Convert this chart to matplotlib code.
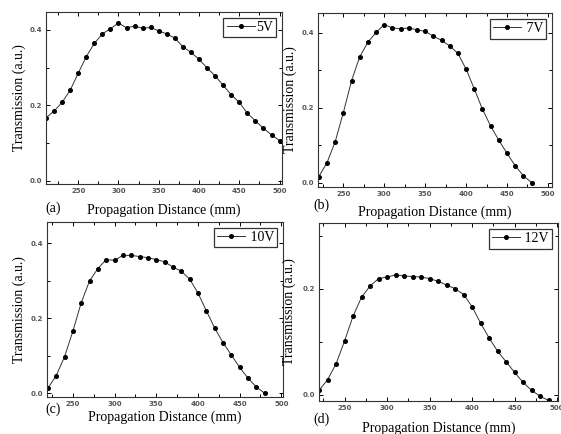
import numpy as np
import matplotlib
matplotlib.use("Agg")
import matplotlib.pyplot as plt
from matplotlib.ticker import MultipleLocator

# datos
dist_a = [210, 220, 230, 240, 250, 260, 270, 280, 290, 300, 310, 320, 330, 340, 350,
          360, 370, 380, 390, 400, 410, 420, 430, 440, 450, 460, 470, 480, 490, 500]
trans_a = [0.167, 0.185, 0.208, 0.240, 0.285, 0.329, 0.364, 0.389, 0.403, 0.418,
           0.405, 0.410, 0.404, 0.406, 0.397, 0.389, 0.378, 0.355, 0.340, 0.322,
           0.299, 0.278, 0.253, 0.228, 0.208, 0.179, 0.159, 0.139, 0.122, 0.107]

dist_b = [220, 230, 240, 250, 260, 270, 280, 290, 300, 310, 320, 330, 340, 350,
          360, 370, 380, 390, 400, 410, 420, 430, 440, 450, 460, 470, 480]
trans_b = [0.016, 0.053, 0.109, 0.187, 0.272, 0.336, 0.375, 0.401, 0.422, 0.413,
           0.411, 0.413, 0.408, 0.404, 0.391, 0.380, 0.365, 0.345, 0.303, 0.250,
           0.196, 0.151, 0.113, 0.078, 0.045, 0.018, 0.000]

dist_c = [220, 230, 240, 250, 260, 270, 280, 290, 300, 310, 320, 330, 340, 350,
          360, 370, 380, 390, 400, 410, 420, 430, 440, 450, 460, 470, 480]
trans_c = [0.013, 0.047, 0.097, 0.165, 0.241, 0.299, 0.332, 0.356, 0.354, 0.367,
           0.367, 0.364, 0.361, 0.356, 0.350, 0.336, 0.325, 0.304, 0.267, 0.220,
           0.174, 0.135, 0.102, 0.069, 0.040, 0.017, 0.000]

dist_d = [220, 230, 240, 250, 260, 270, 280, 290, 300, 310, 320, 330, 340, 350,
          360, 370, 380, 390, 400, 410, 420, 430, 440, 450, 460, 470, 480, 490]
trans_d = [0.008, 0.028, 0.058, 0.101, 0.148, 0.184, 0.205, 0.219, 0.222, 0.226,
           0.224, 0.223, 0.222, 0.219, 0.214, 0.207, 0.200, 0.189, 0.166, 0.135,
           0.107, 0.082, 0.062, 0.042, 0.023, 0.008, -0.003, -0.011]

voltajes = ['5V', ' 7V', ' 10V', ' 12V']
letras = ['(a)', '(b)', '(c)', '(d)']

W, H = 561, 434
fig = plt.figure(figsize=(W / 100, H / 100), dpi=100)

# cajas de los ejes en pixeles: izquierda, arriba, derecha, abajo
cajas = [(46, 12, 282, 184), (318, 13, 552, 187), (47, 222, 283, 397), (319, 223, 558, 401)]
xlims = [(210, 503), (219, 505), (219, 502), (220, 501)]
ylims = [(-0.008, 0.447), (-0.012, 0.453), (-0.01, 0.456), (-0.012, 0.324)]
# posiciones de textos (pixeles)
ylab_x = [19, 290, 19, 289]
xlab_y = [210, 212, 417, 428]
letra_pos = [(53, 208), (321, 205), (53, 409), (321, 419)]

datos = [(dist_a, trans_a), (dist_b, trans_b), (dist_c, trans_c), (dist_d, trans_d)]
serif = 'Liberation Serif'

for i in range(4):
    l, t, r, b = cajas[i]
    ax = fig.add_axes([l / W, 1 - b / H, (r - l) / W, (b - t) / H])
    x, y = datos[i]
    ax.plot(x, y, '-', color='#333333', lw=0.7, marker='o', ms=2.6,
            mfc='black', mec='black', label=voltajes[i])
    ax.set_xlim(*xlims[i])
    ax.set_ylim(*ylims[i])
    ax.xaxis.set_major_locator(MultipleLocator(50))
    ax.xaxis.set_minor_locator(MultipleLocator(25))
    ax.yaxis.set_major_locator(MultipleLocator(0.2))
    ax.yaxis.set_minor_locator(MultipleLocator(0.1))
    ax.yaxis.set_major_formatter(plt.FormatStrFormatter('%.1f'))
    ax.tick_params(which='both', direction='in', top=True, right=True, width=0.7,
                   labelsize=5, labelcolor='#555555', pad=3)
    ax.tick_params(which='major', length=3)
    ax.tick_params(which='minor', length=2)
    for lab in ax.get_xticklabels() + ax.get_yticklabels():
        lab.set_fontweight('bold')
    for s in ax.spines.values():
        s.set_linewidth(0.8)
        s.set_color('#333333')

    # etiquetas
    ax.set_xlabel('Propagation Distance (mm)', fontsize=10, family=serif)
    ax.set_ylabel('Transmission (a.u.)', fontsize=10, family=serif)
    ax.xaxis.set_label_coords(0.5, (b - xlab_y[i]) / (b - t), transform=ax.transAxes)
    ax.yaxis.set_label_coords((ylab_x[i] - l) / (r - l), 0.5, transform=ax.transAxes)
    ax.xaxis.label.set_va('center')
    ax.yaxis.label.set_va('center')

    leg = ax.legend(loc='upper right', prop={'family': serif, 'size': 10},
                    frameon=True, fancybox=False, handlelength=2.0, handletextpad=0.1,
                    borderpad=0.25, borderaxespad=0.4, markerscale=1.0)
    leg.get_frame().set_edgecolor('black')
    leg.get_frame().set_linewidth(0.9)

    lx, ly = letra_pos[i]
    fig.text(lx / W, 1 - ly / H, letras[i], fontsize=10, family=serif,
             ha='center', va='center')

fig.savefig('out.png', dpi=100)
